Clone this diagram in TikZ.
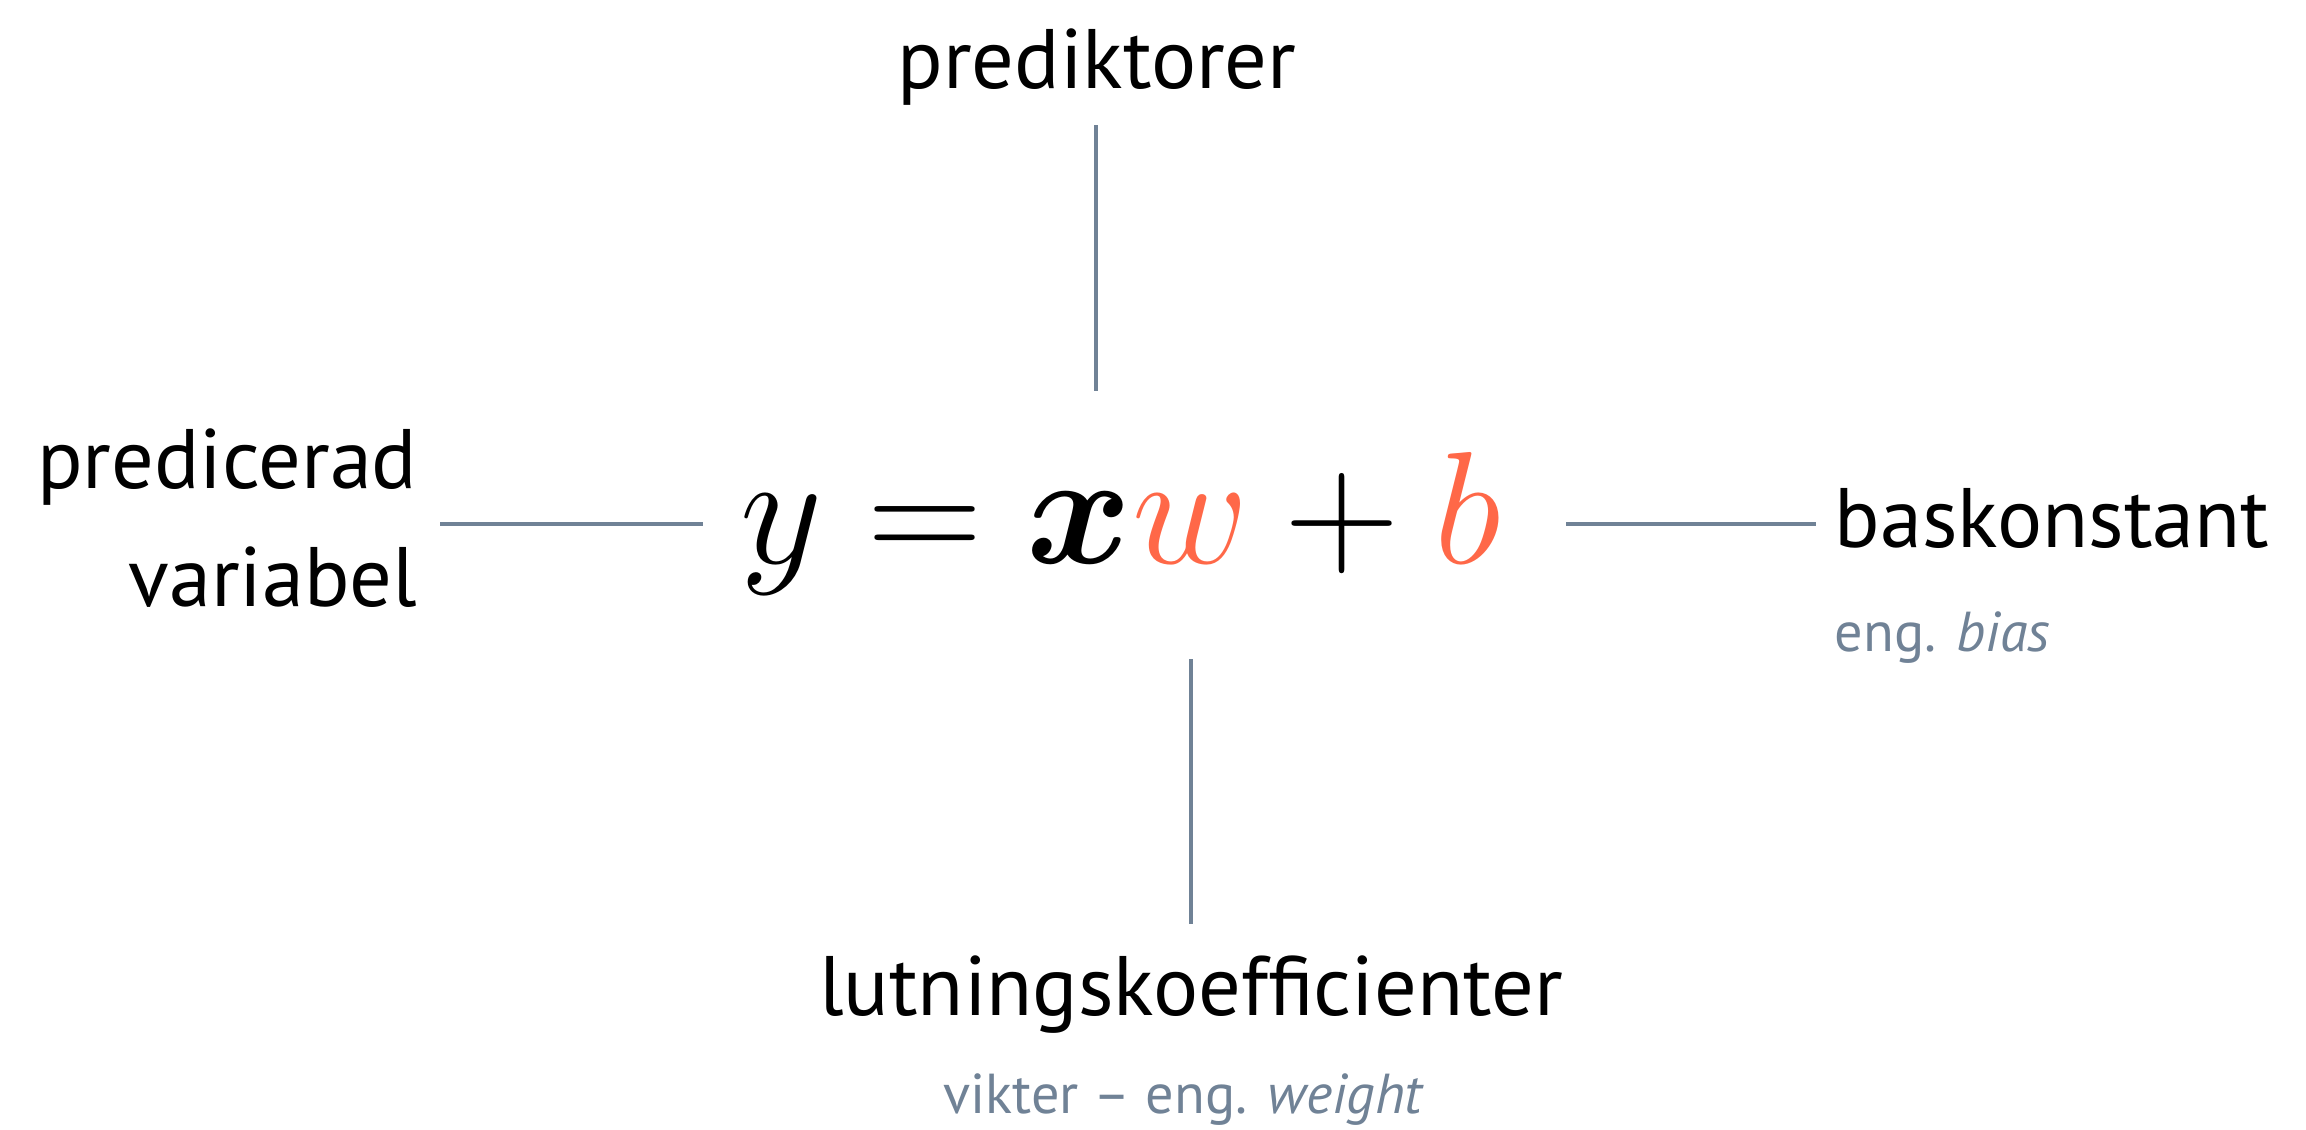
\RequirePackage{fix-cm}
\documentclass[tikz,border=0pt]{standalone}
\usepackage{amsmath}
\usepackage{fontspec}
\setmainfont{PT Sans}
\definecolor{accent}{RGB}{255,104,72}
\definecolor{slate}{RGB}{112,130,150}
\begin{document}
\begin{tikzpicture}[x=0.01cm,y=-0.01cm,
  lbl/.style={inner sep=0pt, font=\fontsize{24}{29}\selectfont},
  sub/.style={inner sep=0pt, text=slate, font=\fontsize{16}{19}\selectfont},
  conn/.style={draw=slate, line width=1.3pt}]
\useasboundingbox (0,0) rectangle (2306,1129);
% equation
\node[inner sep=0pt, anchor=base] (eq) at (1121,563)
  {\fontsize{45.5}{52}\selectfont$y = \boldsymbol{x}{\color{accent}w} + {\color{accent}b}$};
% labels
\node[lbl, anchor=base] (pred) at (1097,88) {prediktorer};
\node[lbl, anchor=base east, align=right] (pv1) at (418,488) {predicerad};
\node[lbl, anchor=base east] (pv2) at (418,606) {variabel};
\node[lbl, anchor=base west] (bask) at (1834,547) {baskonstant};
\node[sub, anchor=base west] (bias) at (1834,651) {eng. \textit{bias}};
\node[lbl, anchor=base] (lut) at (1191,1015) {lutningskoefficienter};
\node[sub, anchor=base] (vik) at (1184,1113) {vikter – eng. \textit{weight}};
% connector endpoints
\coordinate (t1) at (1096,125); \coordinate (t2) at (1096,391);
\coordinate (l1) at (440,524);  \coordinate (l2) at (703,524);
\coordinate (r1) at (1566,524); \coordinate (r2) at (1816,524);
\coordinate (b1) at (1191,659); \coordinate (b2) at (1191,924);
\draw[conn] (t1) -- (t2);
\draw[conn] (l1) -- (l2);
\draw[conn] (r1) -- (r2);
\draw[conn] (b1) -- (b2);
\end{tikzpicture}
\end{document}
